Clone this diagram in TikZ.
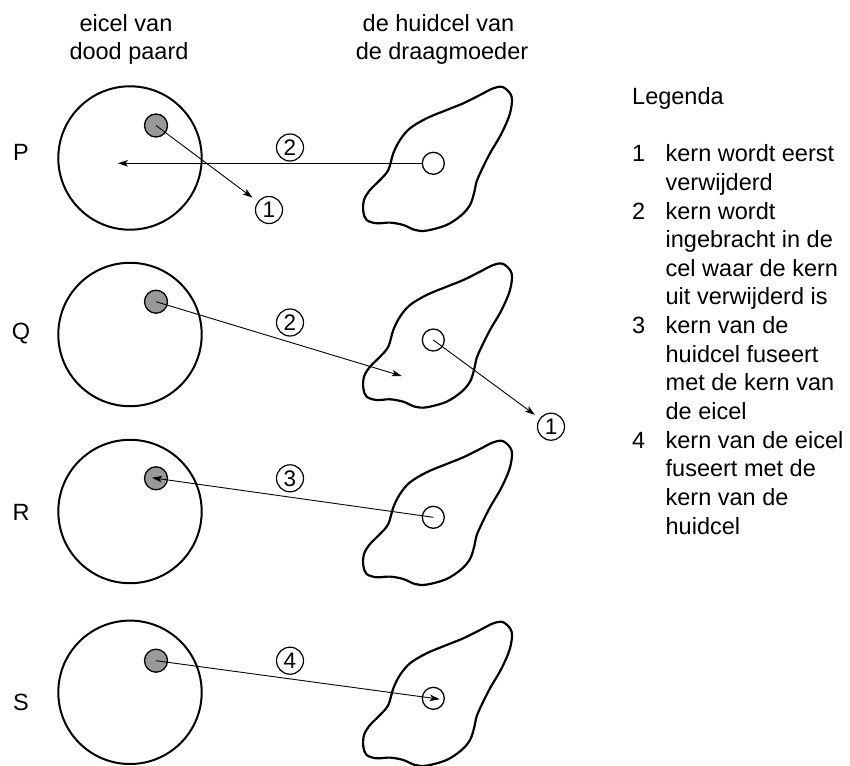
\documentclass[tikz,border=0pt]{standalone}
\usepackage{fontspec}
\setmainfont{Liberation Sans}
\usetikzlibrary{arrows.meta}
\definecolor{nucgray}{RGB}{153,153,153}
\newcommand\drawblob[1]{%
  \draw[blobline, shift={#1}] plot[smooth cycle, tension=0.55] coordinates {
    (70,-76) (78.3,-66.7) (76.7,-50) (68.3,-30) (56.7,-10) (48.3,6.7)
    (43.3,18.3) (40.7,30) (36.7,41.7) (28.3,51.7) (13.3,61.7) (-6.7,67.3)
    (-18.3,66.7) (-30,61.7) (-43.3,59.3) (-56.7,60) (-66.7,56.7) (-70,48.3)
    (-69.3,36.7) (-63.3,26.7) (-53.3,16.7) (-45,6.7) (-40,-10) (-33.3,-23.3)
    (-23.3,-35) (-6.7,-45) (13.3,-53.3) (30,-60) (46.7,-68.3) (60,-75)};}
\begin{document}
\begin{tikzpicture}[x=1pt,y=-1pt,
  txt/.style={font=\fontsize{23.5}{28.65}\selectfont, inner sep=0pt, anchor=base},
  eicel/.style={draw, line width=2pt, circle, minimum size=143.4pt, inner sep=0pt},
  blobline/.style={line width=2.2pt, line join=round},
  graynuc/.style={draw, circle, fill=nucgray, line width=1.3pt, minimum size=23pt, inner sep=0pt},
  whitenuc/.style={draw, circle, line width=1.3pt, minimum size=22pt, inner sep=0pt},
  numcirc/.style={draw, circle, line width=1.2pt, minimum size=27pt, inner sep=0pt, font=\fontsize{22.5}{22.5}\selectfont},
  arr/.style={line width=0.9pt, -{Stealth[length=10pt,width=6.5pt,inset=2.5pt]}},
]
\useasboundingbox (0,0) rectangle (850,765);

% headers
\node[txt] (h1a) at (126,31.7) {eicel van};
\node[txt] (h1b) at (129,60) {dood paard};
\node[txt] (h2a) at (438.5,31.7) {de huidcel van};
\node[txt] (h2b) at (442,60) {de draagmoeder};

% row labels
\node[txt] (lP) at (21,160) {P};
\node[txt] (lQ) at (21,339.5) {Q};
\node[txt] (lR) at (21,520.7) {R};
\node[txt] (lS) at (21,710) {S};

% egg cells
\node[eicel] (eP) at (130,158) {};
\node[eicel] (eQ) at (130,334.5) {};
\node[eicel] (eR) at (130,511.5) {};
\node[eicel] (eS) at (130,692.3) {};

% skin cells
\drawblob{(433.3,163.3)}
\drawblob{(433.3,340)}
\drawblob{(433.3,517.3)}
\drawblob{(433.3,698.3)}

% nuclei
\node[graynuc] (gP) at (156,125.5) {};
\node[graynuc] (gQ) at (156,301.7) {};
\node[graynuc] (gR) at (156,478.3) {};
\node[graynuc] (gS) at (156,660.7) {};
\node[whitenuc] (wP) at (433.3,163.3) {};
\node[whitenuc] (wQ) at (433.3,340) {};
\node[whitenuc] (wR) at (433.3,517.3) {};
\node[whitenuc] (wS) at (433.3,698.3) {};

% circled numbers
\node[numcirc] (nP2) at (290,147.5) {2};
\node[numcirc] (nP1) at (269,210) {1};
\node[numcirc] (nQ2) at (290,322.5) {2};
\node[numcirc] (nQ1) at (551,426.7) {1};
\node[numcirc] (nR3) at (290,478.3) {3};
\node[numcirc] (nS4) at (290,660.7) {4};

% free ends
\coordinate (pend) at (118,163.3);
\coordinate (qend) at (401.7,376);

% arrows
\draw[arr] (wP) -- (pend);
\draw[arr, shorten >=6.5pt] (gP.center) -- (nP1);
\draw[arr] (gQ.center) -- (qend);
\draw[arr, shorten >=6pt] (wQ.center) -- (nQ1);
\draw[arr, shorten >=-4pt] (wR.center) -- (gR.center);
\draw[arr, shorten >=-6.5pt] (gS.center) -- (wS.center);

% legend
\node[txt, anchor=base west] (leg) at (632,104.4) {%
\begin{tabular}[t]{@{}l@{\hspace{20.4pt}}l@{}}
\multicolumn{2}{@{}l@{}}{Legenda}\\
 & \\
1 & kern wordt eerst\\
  & verwijderd\\
2 & kern wordt\\
  & ingebracht in de\\
  & cel waar de kern\\
  & uit verwijderd is\\
3 & kern van de\\
  & huidcel fuseert\\
  & met de kern van\\
  & de eicel\\
4 & kern van de eicel\\
  & fuseert met de\\
  & kern van de\\
  & huidcel
\end{tabular}};
\end{tikzpicture}
\end{document}
